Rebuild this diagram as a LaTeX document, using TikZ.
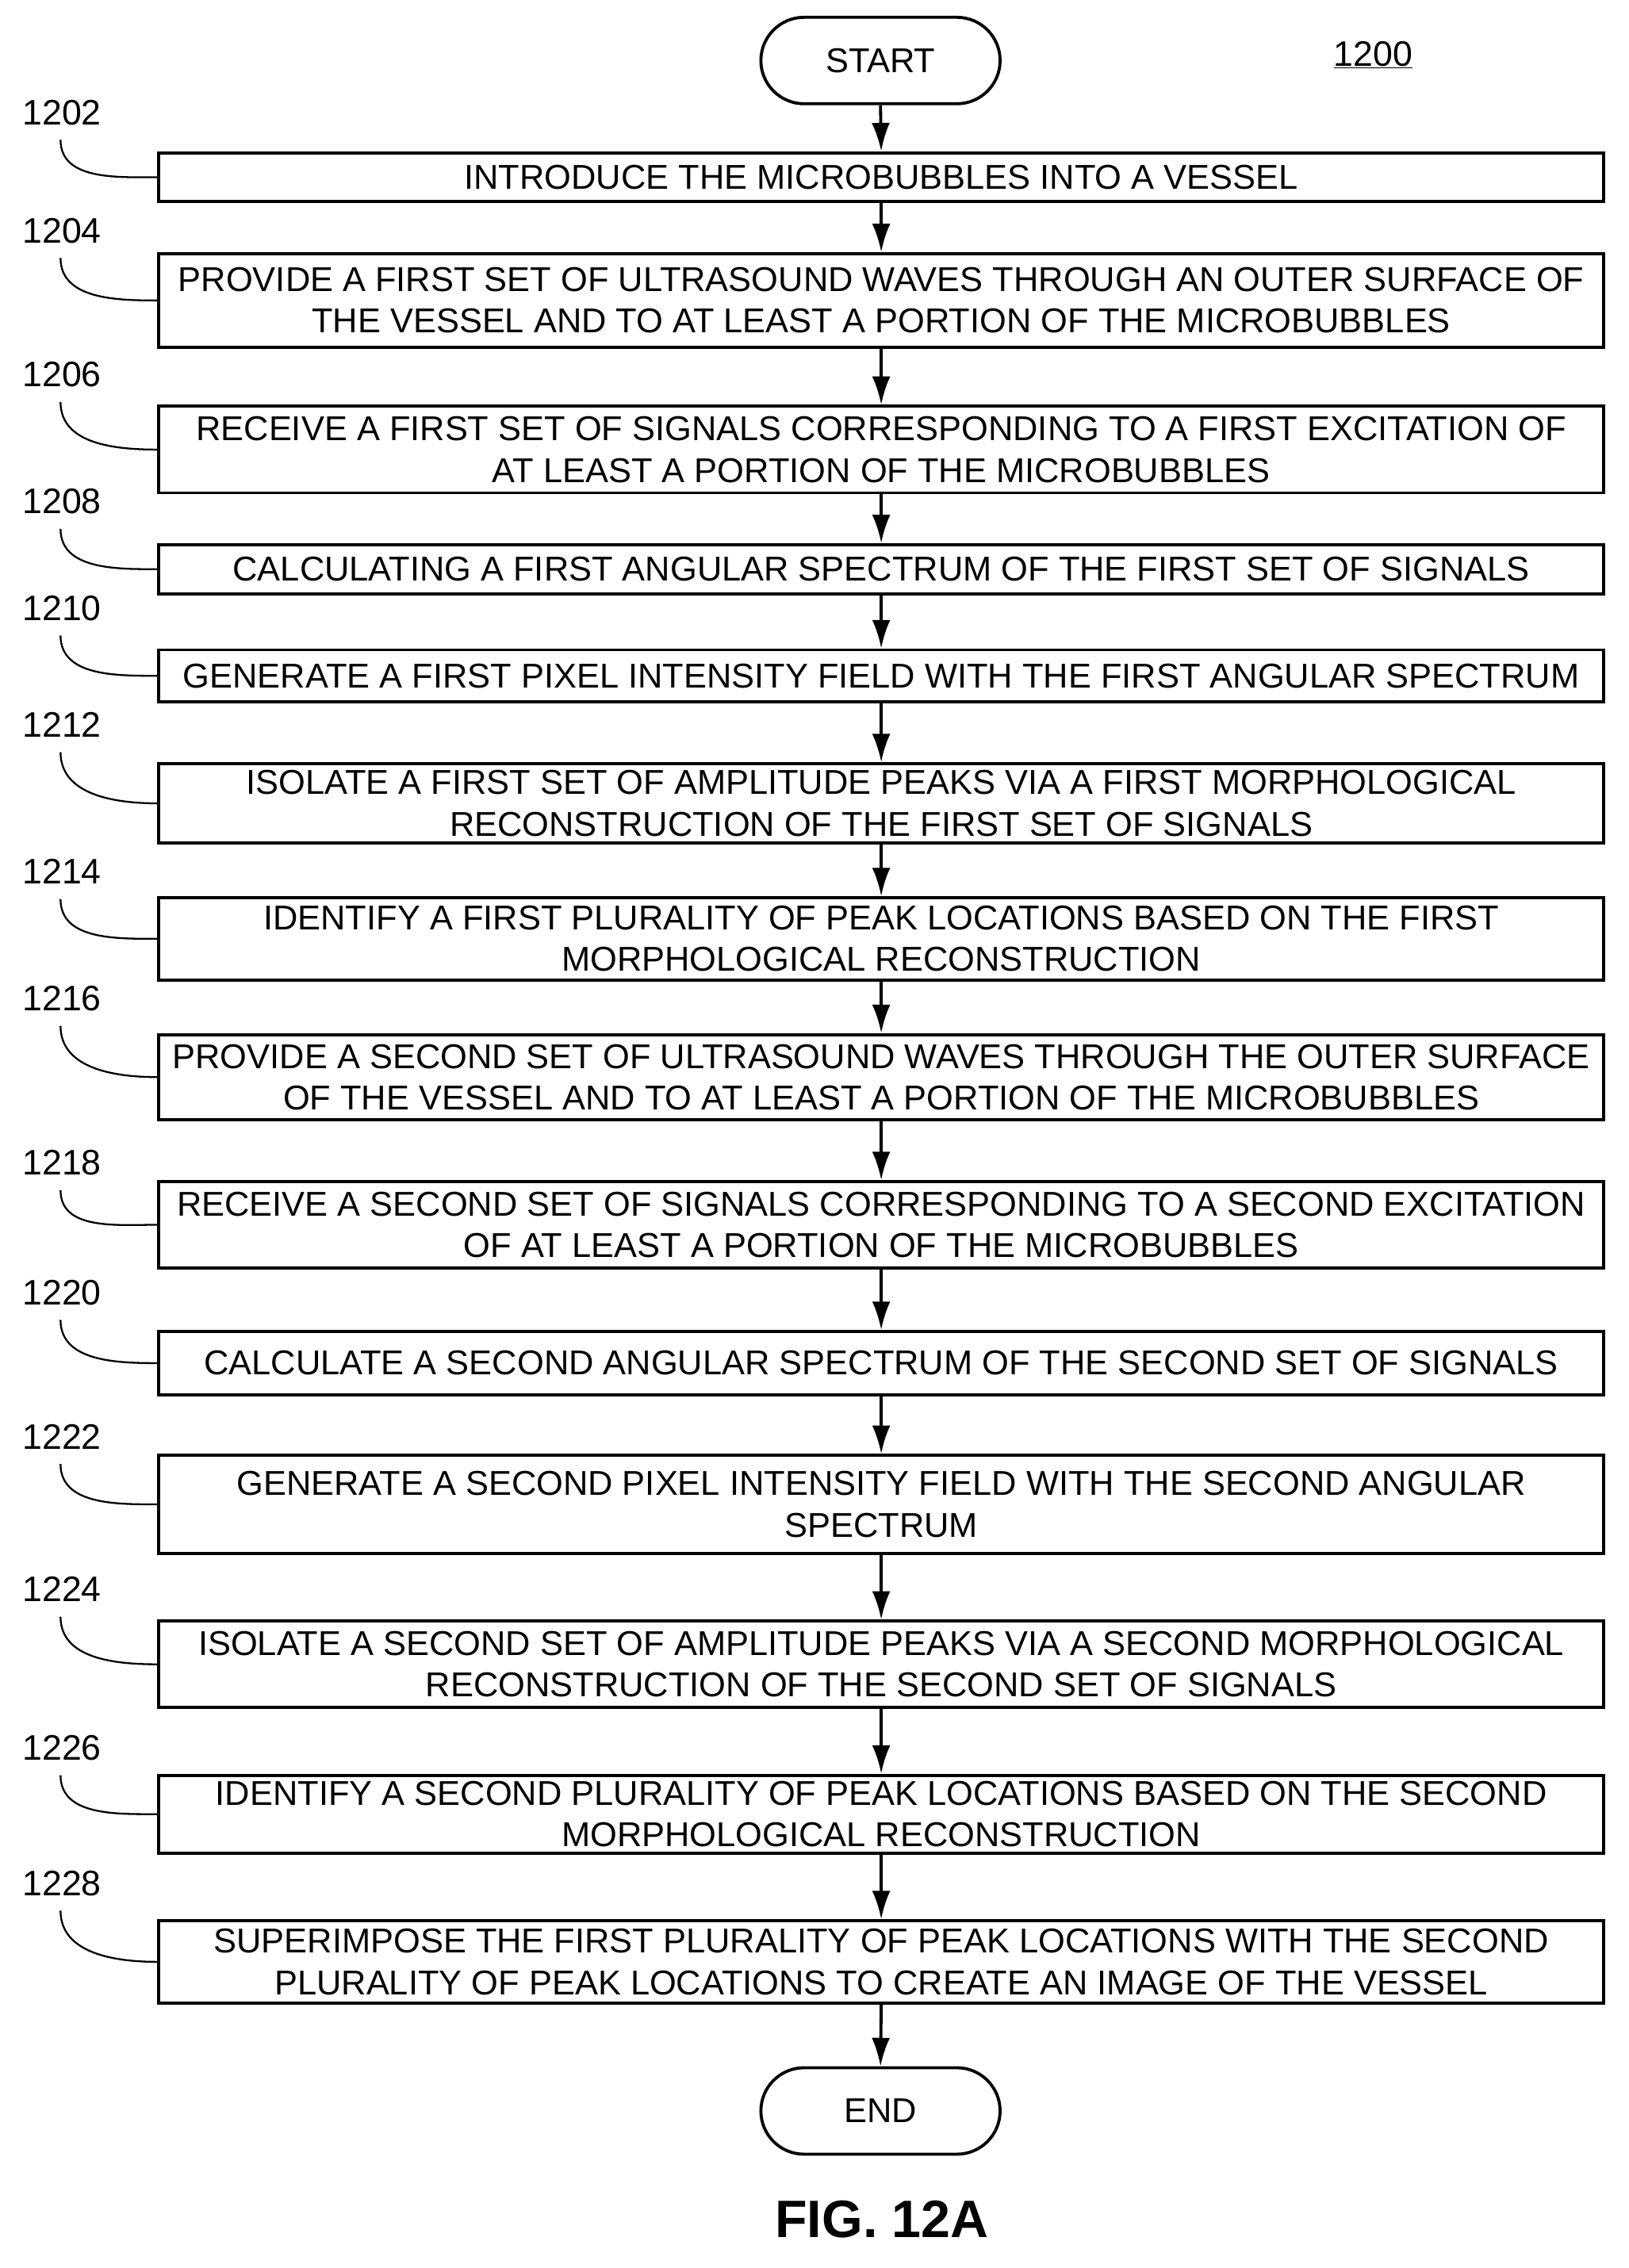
\documentclass[tikz,border=0pt]{standalone}
\usepackage{fontspec}
\setmainfont{Liberation Sans}
\usetikzlibrary{arrows.meta}
\begin{document}
\begin{tikzpicture}[x=0.05cm,y=-0.05cm,
  box/.style={draw,line width=3pt,minimum width=1003*0.05cm,align=center,inner sep=0pt,font=\fontsize{34}{41}\selectfont},
  term/.style={draw,line width=3pt,rounded corners=30*0.05cm,minimum width=166*0.05cm,minimum height=60*0.05cm,font=\fontsize{34}{41}\selectfont},
  arr/.style={line width=3pt,-{Latex[length=28pt,width=18pt]}},
  lead/.style={line width=1.8pt},
  lab/.style={font=\fontsize{35}{40}\selectfont}]
\useasboundingbox (0,0) rectangle (1130,1574);
\node[term] (start) at (611,42) {START};
\node[lab] at (953,38) {\underline{1200}};
\newcommand\stepbox[5]{%
  \node[box,minimum height=(#3-#2)*0.05cm] (#1) at (611.5,{(#2+#3)/2}) {#5};
  \node[lab] (l#1) at (43,#4) {#1};
  \draw[lead] (42,#4+19) to[out=-90,in=180] (#1.west);}
\stepbox{1202}{106}{140}{78}{INTRODUCE THE MICROBUBBLES INTO A VESSEL}
\stepbox{1204}{176}{241}{160}{PROVIDE A FIRST SET OF ULTRASOUND WAVES THROUGH AN OUTER SURFACE OF\\THE VESSEL AND TO AT LEAST A PORTION OF THE MICROBUBBLES}
\stepbox{1206}{282}{342}{260}{RECEIVE A FIRST SET OF SIGNALS CORRESPONDING TO A FIRST EXCITATION OF\\AT LEAST A PORTION OF THE MICROBUBBLES}
\stepbox{1208}{378}{412}{348}{CALCULATING A FIRST ANGULAR SPECTRUM OF THE FIRST SET OF SIGNALS}
\stepbox{1210}{451}{487}{422}{GENERATE A FIRST PIXEL INTENSITY FIELD WITH THE FIRST ANGULAR SPECTRUM}
\stepbox{1212}{530}{585}{503}{ISOLATE A FIRST SET OF AMPLITUDE PEAKS VIA A FIRST MORPHOLOGICAL\\RECONSTRUCTION OF THE FIRST SET OF SIGNALS}
\stepbox{1214}{623}{680}{605}{IDENTIFY A FIRST PLURALITY OF PEAK LOCATIONS BASED ON THE FIRST\\MORPHOLOGICAL RECONSTRUCTION}
\stepbox{1216}{718}{777}{693}{PROVIDE A SECOND SET OF ULTRASOUND WAVES THROUGH THE OUTER SURFACE\\OF THE VESSEL AND TO AT LEAST A PORTION OF THE MICROBUBBLES}
\stepbox{1218}{820}{880}{807}{RECEIVE A SECOND SET OF SIGNALS CORRESPONDING TO A SECOND EXCITATION\\OF AT LEAST A PORTION OF THE MICROBUBBLES}
\stepbox{1220}{924}{968}{897}{CALCULATE A SECOND ANGULAR SPECTRUM OF THE SECOND SET OF SIGNALS}
\stepbox{1222}{1010}{1078}{997}{GENERATE A SECOND PIXEL INTENSITY FIELD WITH THE SECOND ANGULAR\\SPECTRUM}
\stepbox{1224}{1125}{1185}{1103}{ISOLATE A SECOND SET OF AMPLITUDE PEAKS VIA A SECOND MORPHOLOGICAL\\RECONSTRUCTION OF THE SECOND SET OF SIGNALS}
\stepbox{1226}{1232}{1286}{1213}{IDENTIFY A SECOND PLURALITY OF PEAK LOCATIONS BASED ON THE SECOND\\MORPHOLOGICAL RECONSTRUCTION}
\stepbox{1228}{1333}{1390}{1307}{SUPERIMPOSE THE FIRST PLURALITY OF PEAK LOCATIONS WITH THE SECOND\\PLURALITY OF PEAK LOCATIONS TO CREATE AN IMAGE OF THE VESSEL}
\node[term] (end) at (611,1465) {END};
\node[font=\fontsize{52}{60}\selectfont\bfseries] (fig) at (612,1540) {FIG. 12A};
\foreach \a/\b in {start/1202,1202/1204,1204/1206,1206/1208,1208/1210,1210/1212,1212/1214,1214/1216,1216/1218,1218/1220,1220/1222,1222/1224,1224/1226,1226/1228,1228/end}
  \draw[arr] (\a.south) -- (\b.north);
\end{tikzpicture}
\end{document}
